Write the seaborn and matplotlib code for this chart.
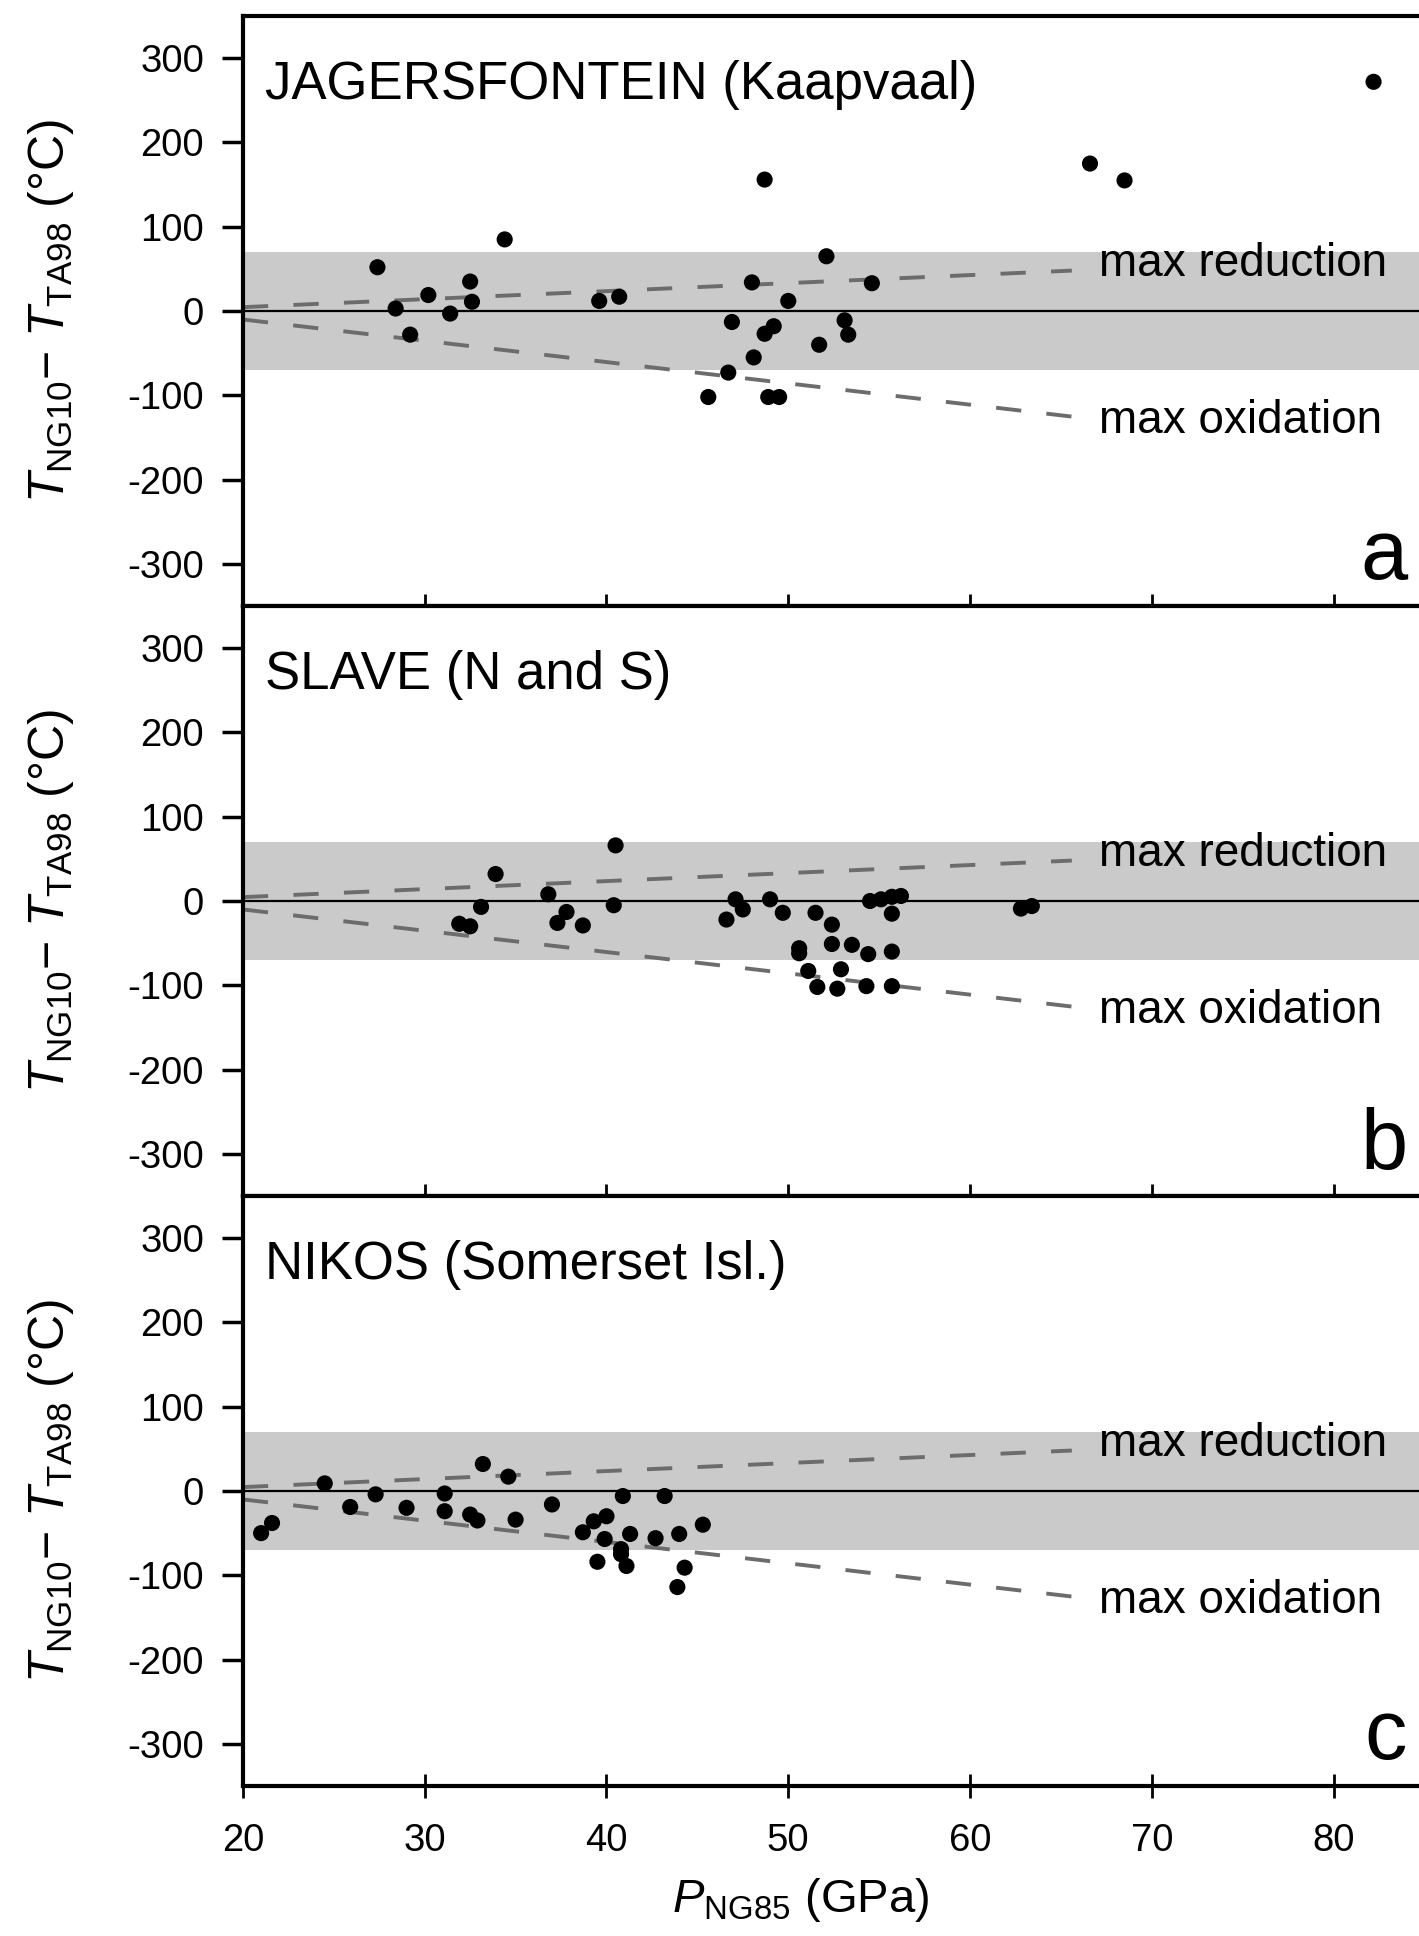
import matplotlib
matplotlib.use("Agg")
import matplotlib.pyplot as plt
import seaborn as sns
import pandas as pd

# ---------------- data ----------------
P_a = [27.4, 34.4, 28.4, 29.2, 30.2, 31.4, 32.5, 32.6, 39.6, 40.7, 45.6,
       48.7, 66.6, 68.5, 82.2, 52.1, 48.0, 54.6, 50.0, 46.9, 49.2, 48.7,
       53.1, 53.3, 51.7, 48.1, 46.7, 48.9, 49.5]
T_a = [52, 85, 3, -28, 19, -3, 35, 11, 12, 17, -102,
       156, 175, 155, 272, 65, 34, 33, 12, -13, -18, -27,
       -11, -28, -40, -55, -73, -102, -102]

P_b = [40.5, 33.9, 36.8, 33.1, 40.4, 31.9, 32.5, 37.8, 37.3, 38.7,
       47.1, 47.5, 46.6, 49.0, 49.7, 51.5, 52.4, 50.6, 50.6, 52.4, 53.5,
       54.4, 55.7, 51.1, 52.9, 51.6, 52.7, 54.3, 55.7, 54.5, 55.1, 55.7,
       56.2, 55.7, 62.8, 63.4]
T_b = [66, 32, 8, -7, -5, -27, -30, -13, -26, -29,
       2, -10, -22, 2, -14, -14, -28, -56, -62, -51, -52,
       -63, -60, -83, -81, -102, -104, -101, -101, 0, 2, 5,
       6, -15, -9, -6]

P_c = [21.0, 21.6, 24.5, 25.9, 27.3, 29.0, 31.1, 31.1, 33.2, 34.6,
       32.5, 32.9, 35.0, 37.0, 38.7, 39.3, 40.0, 40.9, 39.9, 41.3,
       40.8, 40.8, 39.5, 41.1, 42.7, 43.2, 44.0, 45.3, 44.3, 43.9]
T_c = [-50, -38, 9, -19, -4, -20, -3, -24, 32, 17,
       -28, -35, -34, -16, -49, -36, -30, -6, -57, -51,
       -69, -75, -84, -89, -56, -6, -51, -40, -91, -114]

panel_titles = ["JAGERSFONTEIN (Kaapvaal)", "SLAVE (N and S)", "NIKOS (Somerset Isl.)"]
panel_letters = ["a", "b", "c"]

reduction_P = [20.0, 65.6]
reduction_T = [4.6, 48.0]
oxidation_P = [20.0, 66.1]
oxidation_T = [-10.0, -126.5]
band_limit = 70

x_ticks = [20, 30, 40, 50, 60, 70, 80]
y_ticks = [300, 200, 100, 0, -100, -200, -300]

# ---------------- style ----------------
sns.set_style("ticks")
plt.rcParams["font.family"] = ["Liberation Sans", "DejaVu Sans"]
plt.rcParams["mathtext.fontset"] = "custom"
plt.rcParams["mathtext.rm"] = "Liberation Sans"
plt.rcParams["mathtext.it"] = "Liberation Sans:italic"
plt.rcParams["mathtext.bf"] = "Liberation Sans:bold"
for key in ["text.color", "axes.labelcolor", "xtick.color", "ytick.color",
            "xtick.labelcolor", "ytick.labelcolor"]:
    plt.rcParams[key] = "black"

fig, axes = plt.subplots(3, 1, figsize=(14.19, 19.36), dpi=100, sharex=True)
fig.subplots_adjust(left=0.1712, right=1.0, bottom=0.0775, top=0.9917, hspace=0)

datasets = [(P_a, T_a), (P_b, T_b), (P_c, T_c)]
for ax, (P, T), title, letter in zip(axes, datasets, panel_titles, panel_letters):
    df = pd.DataFrame({"P": P, "T": T})
    ax.axhspan(-band_limit, band_limit, color="#cacaca", lw=0, zorder=0)
    ax.axhline(0, color="black", lw=1.6, zorder=1)
    sns.lineplot(x=reduction_P, y=reduction_T, ax=ax, color="#6c6c6c", lw=2.8,
                 linestyle=(0, (6.5, 6.5)), sort=False, zorder=2)
    sns.lineplot(x=oxidation_P, y=oxidation_T, ax=ax, color="#6c6c6c", lw=2.8,
                 linestyle=(0, (6.5, 6.5)), sort=False, zorder=2)
    sns.scatterplot(data=df, x="P", y="T", ax=ax, color="black", s=135,
                    edgecolor="none", zorder=3)

    ax.text(67.1, 56, "max reduction", fontsize=33, va="center", ha="left", zorder=4)
    ax.text(67.1, -130, "max oxidation", fontsize=33, va="center", ha="left", zorder=4)
    ax.text(21.2, 268, title, fontsize=38, va="center", ha="left")
    ax.text(0.99, 0.045, letter, transform=ax.transAxes, fontsize=61,
            ha="right", va="baseline")

    ax.set_xlim(20, 84.7)
    ax.set_ylim(-350, 350)
    ax.set_xticks(x_ticks)
    ax.set_yticks(y_ticks)
    ax.set_yticklabels([str(v) for v in y_ticks])
    ax.spines["right"].set_visible(False)
    for s in ["left", "top", "bottom"]:
        ax.spines[s].set_linewidth(3)
        ax.spines[s].set_color("black")
    ax.tick_params(axis="y", direction="out", length=15, width=2.5,
                   labelsize=27.5, pad=13, color="black")
    ax.tick_params(axis="x", direction="inout", length=17, width=2,
                   labelsize=27.5, pad=18, color="black")
    ax.set_ylabel(r"$T_{\mathrm{NG10}}$$-$ $T_{\mathrm{TA98}}$ (°C)", fontsize=36)
    ax.yaxis.set_label_coords(-0.142, 0.5)
    ax.set_xlabel("")

axes[2].set_xlabel(r"$P_{\mathrm{NG85}}$ (GPa)", fontsize=34)
axes[2].xaxis.set_label_coords(0.474, -0.152)

fig.savefig("out.png", dpi=100, facecolor="white")
